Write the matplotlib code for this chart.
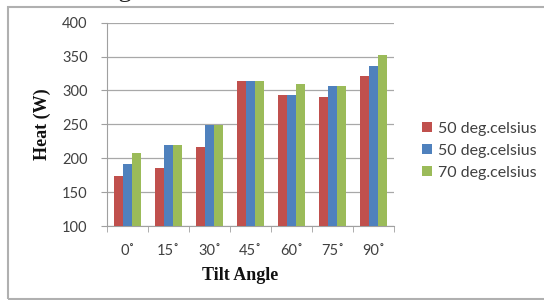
import matplotlib
matplotlib.use("Agg")
import matplotlib.pyplot as plt
import numpy as np
from matplotlib.patches import Rectangle

categories = ["0˚", "15˚", "30˚", "45˚", "60˚", "75˚", "90˚"]
series_names = ["50 deg.celsius", "50 deg.celsius", "70 deg.celsius"]
red_vals = [174, 186, 216, 314, 294, 291, 321]
blue_vals = [191, 220, 249, 314, 294, 307, 336]
green_vals = [208, 220, 249, 314, 310, 307, 353]
colors = ["#C0504D", "#4F81BD", "#9BBB59"]
yticks = [100, 150, 200, 250, 300, 350, 400]

W, H = 544, 300
fig = plt.figure(figsize=(W / 100, H / 100), dpi=100)
fig.patch.set_facecolor("white")

# outer frame
fig.patches.append(Rectangle((8 / W, 1 / H), 1.2, 292 / H, transform=fig.transFigure,
                             fill=False, edgecolor="#B0B0B0", linewidth=1.5))

# cropped caption at top (only its lower edge is visible, as in the reference)
fig.text(85 / W, 1 + 2.5 / H, "range of different heat source.", ha="left", va="baseline",
         fontsize=19, family="Liberation Serif", color="#222222")

left, right, top, bottom = 107, 394, 22.7, 226
ax = fig.add_axes([left / W, 1 - bottom / H, (right - left) / W, (bottom - top) / H])

x = np.arange(len(categories))
bw = 0.215
for i, (vals, c, name) in enumerate(zip([red_vals, blue_vals, green_vals], colors, series_names)):
    ax.bar(x + (i - 1) * bw, np.array(vals) - 100, bottom=100, width=bw, color=c,
           label=name, zorder=3)

ax.set_xlim(-0.5, len(categories) - 0.5)
ax.set_ylim(100, 400)
ax.set_yticks(yticks)
ax.set_yticklabels([str(v) for v in yticks], family="Lato", fontsize=10.5, color="#404040")
ax.set_xticks(x)
ax.set_xticklabels(categories, family="Lato", fontsize=10.5, color="#404040")
ax.tick_params(axis="x", length=0, pad=13)
ax.tick_params(axis="y", length=4, color="#A0A0A0", pad=10)
# category separator ticks on x axis
ax.set_xticks(np.arange(-0.5, len(categories), 1), minor=True)
ax.tick_params(axis="x", which="minor", length=4, color="#A0A0A0")

ax.grid(axis="y", color="#A8A8A8", linewidth=0.9, zorder=0)
for s in ["top", "right"]:
    ax.spines[s].set_visible(False)
ax.spines["left"].set_color("#A0A0A0")
ax.spines["bottom"].set_color("#A0A0A0")

fig.text(42 / W, 1 - 124 / H, "Heat (W)", rotation=90, ha="center", va="center",
         family="Liberation Serif", fontweight="bold", fontsize=13, color="#111111")
fig.text(240 / W, 1 - 275 / H, "Tilt Angle", ha="center", va="center",
         family="Liberation Serif", fontweight="bold", fontsize=13, color="#111111")

leg = ax.legend(loc="center left", bbox_to_anchor=(408 / W, 1 - 151 / H),
                bbox_transform=fig.transFigure, frameon=False,
                prop={"family": "Lato", "size": 11.5}, handlelength=0.6, handleheight=0.6,
                handletextpad=0.4, labelspacing=0.5)
for t in leg.get_texts():
    t.set_color("#404040")

fig.savefig("out.png", dpi=100, facecolor="white")
